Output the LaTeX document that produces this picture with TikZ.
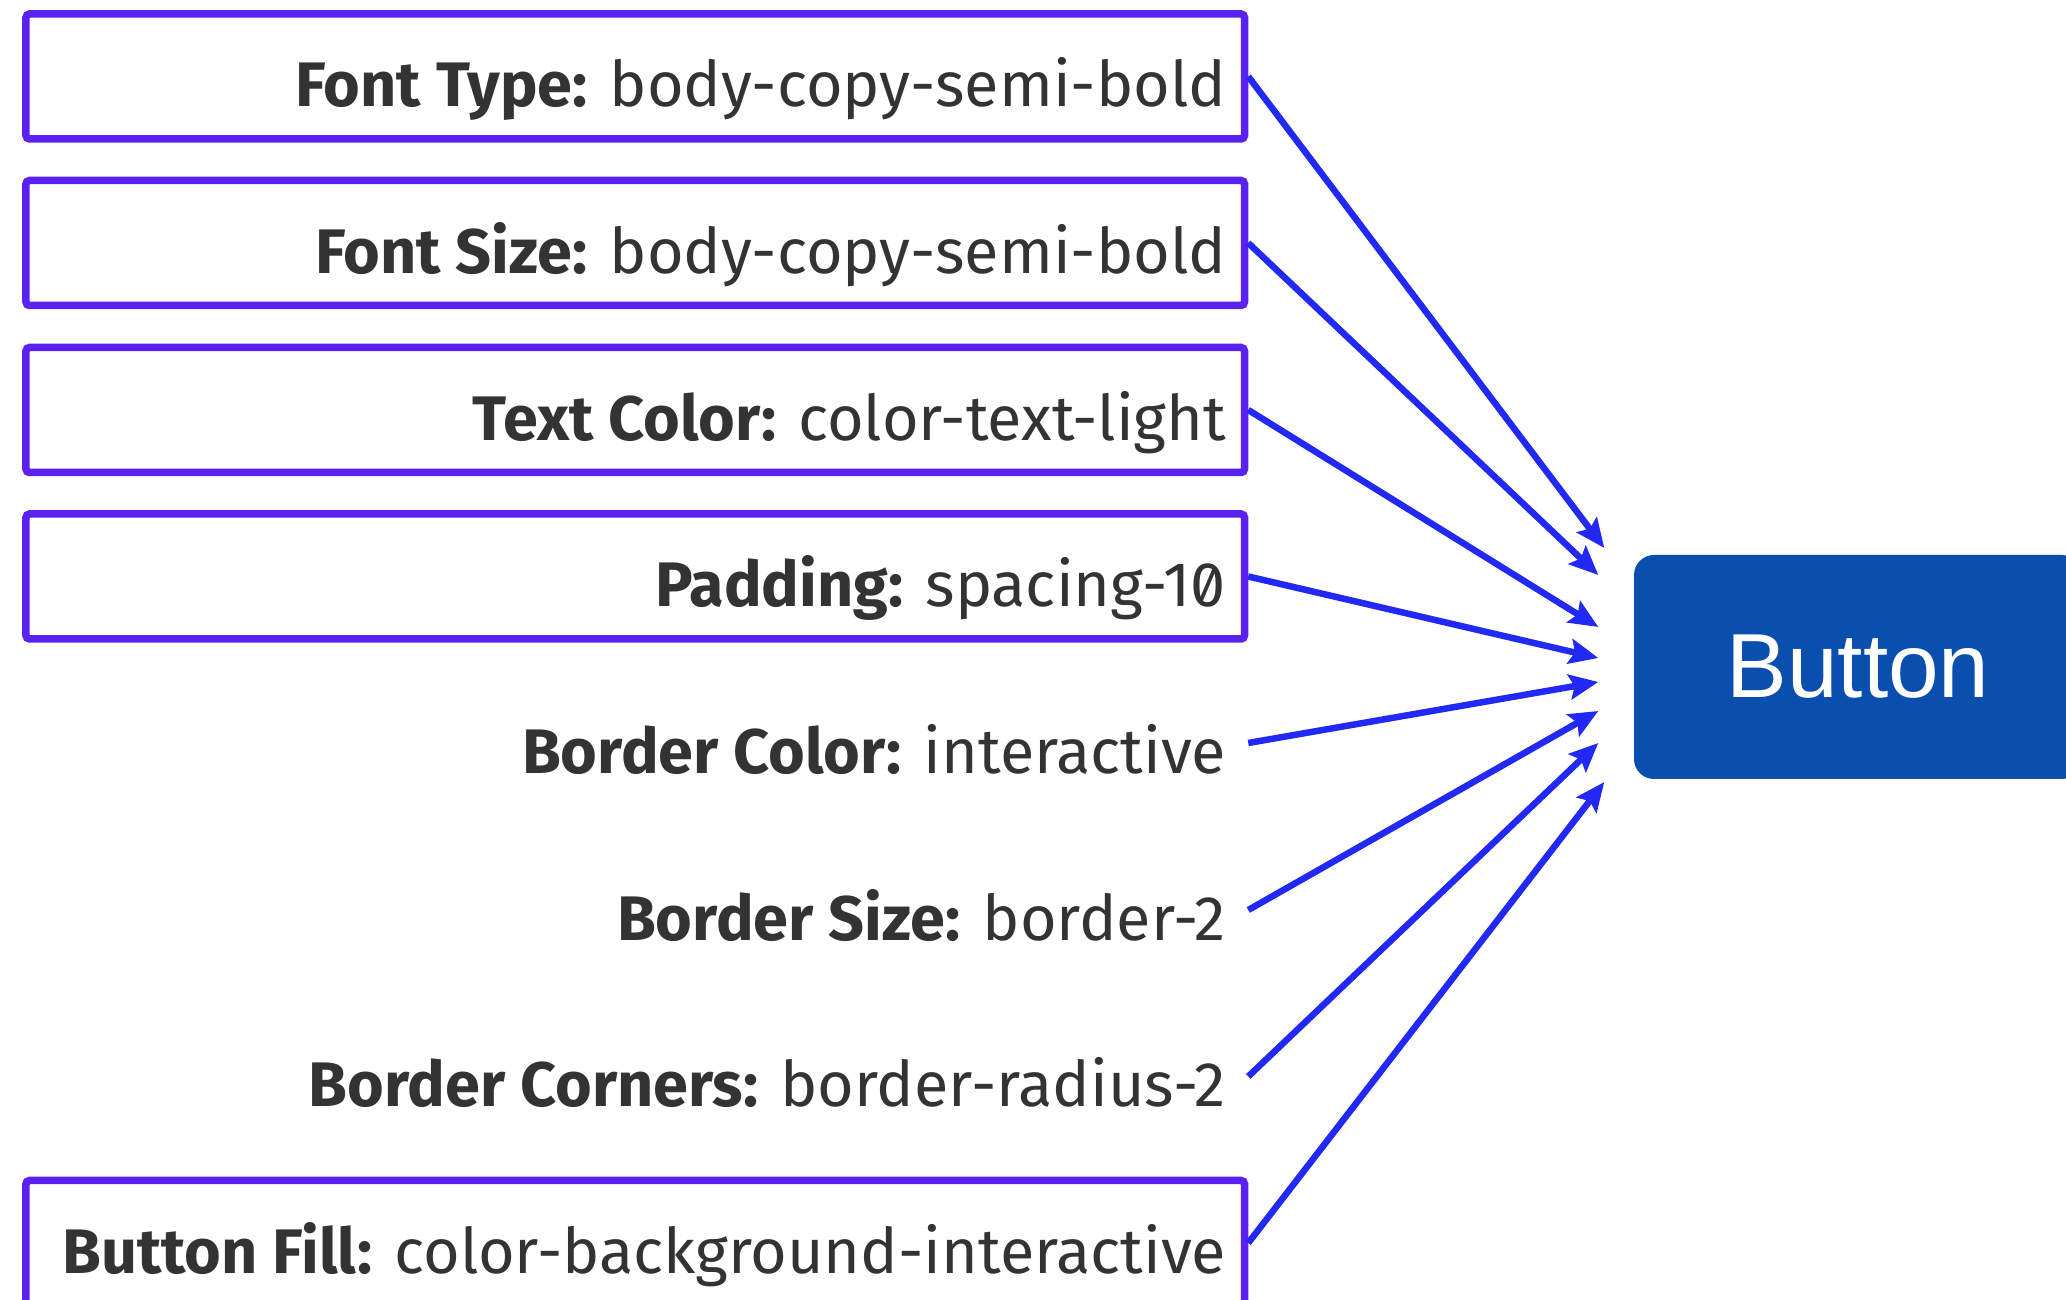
\documentclass[tikz,border=0pt]{standalone}
\usepackage{fontspec}
\setmainfont{Fira Sans}[RawFeature=+zero]
\newfontfamily\btnfont{Liberation Sans}
\usetikzlibrary{arrows.meta, positioning, calc}

\definecolor{framecol}{RGB}{91,33,240}
\definecolor{arrowblue}{RGB}{34,41,245}
\definecolor{btnblue}{RGB}{11,79,174}
\definecolor{labelgray}{RGB}{51,51,51}

\begin{document}
\begin{tikzpicture}[
    font=\fontsize{17.9}{21}\selectfont,
    >={Stealth[length=0.29cm, width=0.25cm, inset=0.05cm]},
    prop/.style={
        draw=framecol, line width=0.075cm, rounded corners=1pt, minimum width=12.185cm, minimum height=1.25cm, inner sep=0pt
    },
    bare/.style={prop, draw=none},
    lbl/.style={anchor=base east, text=labelgray, inner sep=0pt},
    btn/.style={
        fill=btnblue, rounded corners=0.2cm, minimum width=4.48cm, minimum height=2.24cm, text=white, font=\btnfont\fontsize{25.9}{30}\selectfont
    },
    flow/.style={->, draw=arrowblue, line width=0.065cm}
]

% CANVAS (2066 x 1300 px, 1cm = 100px)
\useasboundingbox (0,0) rectangle (20.66,-13.00);

% ROW FRAMES
\node[prop] (fonttype) at (6.3525,-0.765) {};
\node[prop] (fontsize) at (6.3525,-2.43) {};
\node[prop] (textcolor) at (6.3525,-4.10) {};
\node[prop] (padding) at (6.3525,-5.765) {};
\node[bare] (bordercolor) at (6.3525,-7.43) {};
\node[bare] (bordersize) at (6.3525,-9.10) {};
\node[bare] (bordercorners) at (6.3525,-10.765) {};
\node[prop] (buttonfill) at (6.3525,-12.43) {};

% LABELS
\node[lbl] (fonttypetxt) at ($(fonttype.east)+(-0.215,-0.305)$) {\textbf{Font Type:} body-copy-semi-bold};
\node[lbl] (fontsizetxt) at ($(fontsize.east)+(-0.215,-0.305)$) {\textbf{Font Size:} body-copy-semi-bold};
\node[lbl] (textcolortxt) at ($(textcolor.east)+(-0.215,-0.305)$) {\textbf{Text Color:} color-text-light};
\node[lbl] (paddingtxt) at ($(padding.east)+(-0.215,-0.305)$) {\textbf{Padding:} spacing-10};
\node[lbl] (bordercolortxt) at ($(bordercolor.east)+(-0.215,-0.305)$) {\textbf{Border Color:} interactive};
\node[lbl] (bordersizetxt) at ($(bordersize.east)+(-0.215,-0.305)$) {\textbf{Border Size:} border-2};
\node[lbl] (bordercornerstxt) at ($(bordercorners.east)+(-0.215,-0.305)$) {\textbf{Border Corners:} border-radius-2};
\node[lbl] (buttonfilltxt) at ($(buttonfill.east)+(-0.215,-0.305)$) {\textbf{Button Fill:} color-background-interactive};

% BUTTON
\node[btn] (button) at (18.58,-6.67) {Button};

% FLOWS
\draw[flow] (fonttype.east) -- ($(button.west)+(-0.29,1.19)$);
\draw[flow] (fontsize.east) -- ($(button.west)+(-0.35,0.92)$);
\draw[flow] (textcolor.east) -- ($(button.west)+(-0.35,0.40)$);
\draw[flow] (padding.east) -- ($(button.west)+(-0.35,0.09)$);
\draw[flow] (bordercolor.east) -- ($(button.west)+(-0.35,-0.15)$);
\draw[flow] (bordersize.east) -- ($(button.west)+(-0.35,-0.44)$);
\draw[flow] (bordercorners.east) -- ($(button.west)+(-0.35,-0.76)$);
\draw[flow] (buttonfill.east) -- ($(button.west)+(-0.29,-1.15)$);

\end{tikzpicture}
\end{document}
